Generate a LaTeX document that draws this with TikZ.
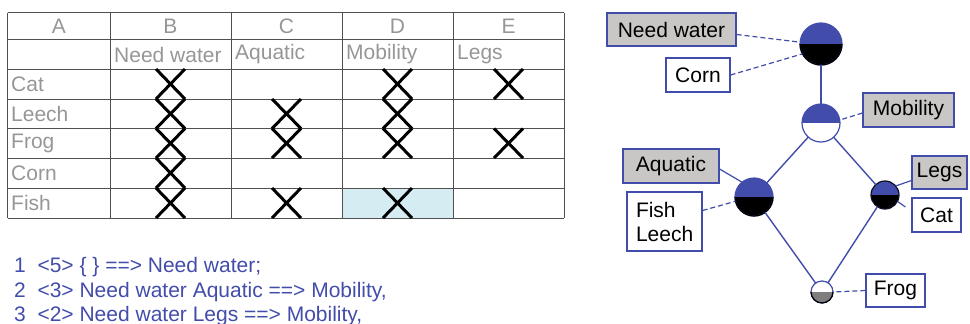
\documentclass[tikz,border=0pt]{standalone}
\usepackage{fontspec}
\setmainfont{Liberation Sans}
\definecolor{cblue}{RGB}{66,76,170}
\definecolor{tgray}{RGB}{150,150,150}
\definecolor{lgray}{RGB}{200,199,197}
\definecolor{cyanf}{RGB}{212,236,242}
\definecolor{fgray}{RGB}{128,126,124}
\definecolor{tline}{RGB}{80,80,80}
\begin{document}
\begin{tikzpicture}[x=1pt,y=1pt,
  lbl/.style={draw=cblue, line width=1.2pt, inner sep=0pt, font=\fontsize{21}{24}\selectfont, text=black},
  gbox/.style={lbl, fill=lgray},
  wbox/.style={lbl, fill=white},
  edge/.style={cblue, line width=1.4pt},
  dedge/.style={cblue, line width=1.2pt, dash pattern=on 5pt off 3pt},
  cell/.style={font=\fontsize{21}{24}\selectfont, text=tgray, inner sep=0pt},
  rule/.style={font=\fontsize{21}{24}\selectfont, text=cblue, inner sep=0pt, anchor=base west},
  xm/.style={line width=3pt, black},
  concept/.style={circle, inner sep=0pt, outer sep=0pt, minimum size=#1, draw=cblue, line width=1.2pt},
  half/.style 2 args={path picture={
    \fill[#1] (path picture bounding box.north west) rectangle (path picture bounding box.east);
    \fill[#2] (path picture bounding box.west) rectangle (path picture bounding box.south east);}},
]
\useasboundingbox (0,0) rectangle (970,-324);

% ---------- table ----------
\fill[cyanf] (342,-188) rectangle (453,-218);
\foreach \y in {12.5,39.5,69,99,128.5,158,188,218}
  \draw[tline, line width=1pt] (7.5,-\y) -- (564,-\y);
\foreach \x in {7.5,110,231,342,453,564}
  \draw[tline, line width=1pt] (\x,-12.5) -- (\x,-218);

\node[cell] (hA) at (59,-26) {A};
\node[cell] (hB) at (170.5,-26) {B};
\node[cell] (hC) at (286.5,-26) {C};
\node[cell] (hD) at (397.5,-26) {D};
\node[cell] (hE) at (508.5,-26) {E};

\node[cell, anchor=west] (aB) at (114,-54.5) {Need water};
\node[cell, anchor=west] (aC) at (235,-54.5) {Aquatic};
\node[cell, anchor=west] (aD) at (346,-54.5) {Mobility};
\node[cell, anchor=west] (aE) at (457,-54.5) {Legs};

\node[cell, anchor=west] (oCat) at (11,-84) {Cat};
\node[cell, anchor=west] (oLeech) at (11,-113.75) {Leech};
\node[cell, anchor=west] (oFrog) at (11,-143.25) {Frog};
\node[cell, anchor=west] (oCorn) at (11,-173) {Corn};
\node[cell, anchor=west] (oFish) at (11,-203) {Fish};

% crosses: column center / row top / row bottom
\foreach \cx/\ta/\tb in {
  170.5/69/99, 397.5/69/99, 508.5/69/99,
  170.5/99/128.5, 286.5/99/128.5, 397.5/99/128.5,
  170.5/128.5/158, 286.5/128.5/158, 397.5/128.5/158, 508.5/128.5/158,
  170.5/158/188,
  170.5/188/218, 286.5/188/218, 397.5/188/218}
{
  \draw[xm] (\cx-14.5,-\ta) -- (\cx+14.5,-\tb);
  \draw[xm] (\cx-14.5,-\tb) -- (\cx+14.5,-\ta);
}

% ---------- rules ----------
\node[rule] (r1) at (14,-272.5) {1\ \ <5> \{ \} ==> Need water;};
\node[rule] (r2) at (14,-297) {2\ \ <3> Need water Aquatic ==> Mobility,};
\node[rule] (r3) at (14,-321.5) {3\ \ <2> Need water Legs ==> Mobility,};

% ---------- lattice ----------
\node[concept=42pt, half={cblue}{black}] (n1) at (821,-44) {};
\node[concept=38pt, half={cblue}{white}] (n2) at (821,-123) {};
\node[concept=38pt, half={cblue}{black}] (n3) at (754,-197) {};
\node[concept=28pt, half={cblue}{black}, draw=black!80!cblue] (n4) at (885,-195) {};
\node[concept=22pt, half={white}{fgray}] (n5) at (822,-292) {};
\draw[black, line width=1.2pt] (n1.east) arc[start angle=0, end angle=-180, radius=21pt];
\draw[black, line width=1.2pt] (n3.east) arc[start angle=0, end angle=-180, radius=19pt];
\draw[black, line width=1.2pt] (n5.east) arc[start angle=0, end angle=-180, radius=11pt];

\draw[edge] (n1) -- (n2);
\draw[edge] (n2) -- (n3);
\draw[edge] (n2) -- (n4);
\draw[edge] (n3) -- (n5);
\draw[edge] (n4) -- (n5);

\node[gbox, minimum width=129pt, minimum height=33pt] (lNeed) at (671.5,-29.5) {Need water};
\node[wbox, minimum width=64pt, minimum height=34pt] (lCorn) at (698,-75) {Corn};
\node[gbox, minimum width=91pt, minimum height=34pt] (lMob) at (908.5,-110) {Mobility};
\node[gbox, minimum width=96pt, minimum height=34pt] (lAq) at (671,-166) {Aquatic};
\node[wbox, minimum width=75pt, minimum height=59pt, align=left, text width=57pt, inner xsep=8pt] (lFL) at (664.5,-221.5) {Fish\\Leech};
\node[gbox, minimum width=55pt, minimum height=33pt] (lLegs) at (939.5,-172.5) {Legs};
\node[wbox, minimum width=49pt, minimum height=34pt] (lCat) at (936.5,-215) {Cat};
\node[wbox, minimum width=59pt, minimum height=33pt] (lFrog) at (895.5,-290.5) {Frog};

\draw[dedge] ([yshift=-5pt]lNeed.east) -- (n1.175);
\draw[dedge] (lCorn.east) -- (n1.208);
\draw[dedge] ([yshift=-3pt]lMob.west) -- (n2.9);
\draw[edge, line width=1.2pt] ([yshift=-3pt]lAq.east) -- (n3.129);
\draw[dedge] ([yshift=11pt]lFL.east) -- (n3.193);
\draw[edge, line width=1.2pt] ([yshift=-8pt]lLegs.west) -- (n4.40);
\draw[edge, line width=1.2pt] ([yshift=8pt, xshift=-6pt]lCat.west) -- (n4.-27);
\draw[dedge] (lFrog.west) -- (n5.east);
\end{tikzpicture}
\end{document}
